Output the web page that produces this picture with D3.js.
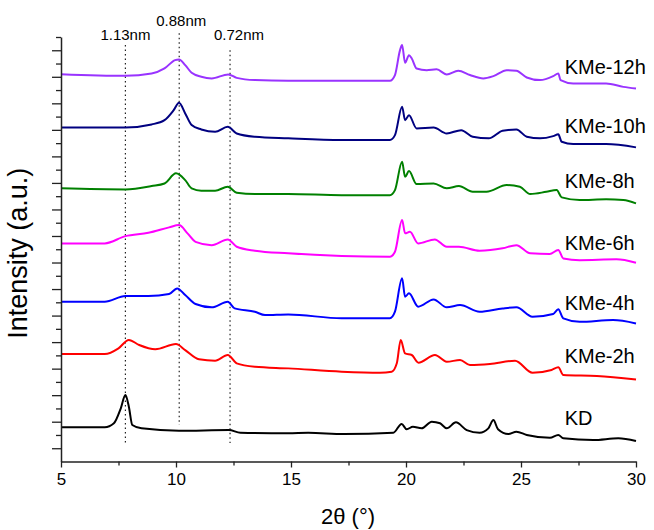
<!DOCTYPE html>
<html>
<head>
<meta charset="utf-8">
<script src="https://cdn.jsdelivr.net/npm/d3@7"></script>
<style>
  body { margin: 0; background: #fff; }
  text { font-family: "Liberation Sans", Arial, sans-serif; fill: #000; }
</style>
</head>
<body>
<div id="chart"></div>
<script>
// XRD patterns, stacked (2theta, intensity in a.u.)
const kd = [[5.0,2.58],[6.9,2.58],[7.3,2.88],[7.6,4.01],[7.8,5.01],[7.95,4.13],[8.1,2.75],[8.5,2.50],
  [10.13,2.32],[12.3,2.37],[12.8,2.17],[14.88,2.13],[15.75,2.17],[17.3,2.07],[19.45,2.17],[19.81,2.83],
  [20.03,2.43],[20.3,2.62],[20.68,2.50],[21.12,3.00],[21.48,2.88],[21.77,2.50],[22.17,2.95],[22.64,2.37],
  [23.2,2.17],[23.58,2.50],[23.8,3.13],[24.0,2.43],[24.45,2.07],[24.8,2.25],[25.25,2.00],[26.26,1.79],
  [26.62,2.00],[26.84,1.75],[28.14,1.62],[29.23,1.75],[30.0,1.54]];

const kme2h = [[5.0,8.10],[6.9,8.10],[7.5,8.53],[7.95,9.16],[8.4,8.78],[9.1,8.46],[10.0,8.85],[10.4,8.40],
  [11.0,7.70],[11.7,7.60],[12.25,8.03],[12.64,7.40],[13.43,7.14],[14.88,7.02],[17.2,6.77],[18.87,6.69],
  [19.38,6.77],[19.6,7.40],[19.77,9.16],[19.96,8.15],[20.25,8.03],[20.54,7.45],[21.26,8.03],[21.77,7.52],
  [22.35,7.65],[22.78,7.27],[23.65,7.35],[24.74,7.60],[25.5,6.69],[26.33,6.90],[26.62,7.10],[26.84,6.52],
  [28.3,6.44],[30.0,6.19]];

const kme4h = [[5.0,12.04],[6.9,12.04],[7.8,12.47],[8.8,12.47],[9.7,12.62],[10.05,13.05],[10.4,12.55],
  [10.85,11.87],[11.55,11.62],[12.25,12.04],[12.55,11.54],[13.43,11.29],[13.87,11.04],[14.88,11.09],
  [17.2,10.79],[19.3,10.79],[19.52,11.29],[19.83,13.81],[19.96,12.42],[20.13,12.68],[20.53,11.67],
  [21.2,12.22],[21.77,11.62],[22.35,11.79],[23.2,11.29],[24.2,11.54],[24.8,11.62],[25.5,10.91],
  [26.4,11.12],[26.62,11.47],[26.84,10.79],[27.55,10.53],[29.0,10.66],[30.0,10.41]];

const kme6h = [[5.0,16.44],[6.9,16.44],[7.8,16.99],[8.8,17.24],[9.7,17.65],[10.13,17.82],[10.5,17.20],
  [10.85,16.56],[11.55,16.31],[12.25,16.74],[12.64,16.19],[13.43,15.89],[14.88,15.69],[17.2,15.49],
  [19.3,15.43],[19.52,15.81],[19.83,18.20],[19.96,17.20],[20.17,17.32],[20.53,16.44],[21.25,16.74],
  [21.77,16.19],[22.3,16.19],[23.2,15.89],[24.2,16.07],[24.8,16.31],[25.4,15.69],[26.25,15.64],
  [26.62,15.94],[26.84,15.31],[27.55,15.18],[29.15,15.24],[30.0,14.98]];

const kme8h = [[5.0,20.59],[7.8,20.51],[8.94,20.76],[9.5,20.96],[10.0,21.72],[10.4,21.21],[10.68,20.59],
  [11.1,20.41],[11.7,20.41],[12.25,20.71],[12.64,20.26],[13.43,20.16],[14.88,20.16],[17.2,20.08],
  [19.3,20.08],[19.52,20.46],[19.83,22.59],[19.96,21.46],[20.13,21.89],[20.46,20.91],[21.2,20.96],
  [21.77,20.59],[22.3,20.76],[22.9,20.33],[23.5,20.33],[24.38,20.84],[24.95,20.71],[25.4,20.16],
  [26.1,20.33],[26.55,20.46],[26.77,19.91],[27.55,19.71],[28.7,19.76],[29.45,19.71],[30.0,19.46]];

const kme10h = [[5.0,25.18],[7.8,25.18],[8.94,25.41],[9.5,25.73],[9.9,26.49],[10.13,27.04],[10.4,26.24],
  [10.68,25.36],[11.1,25.03],[11.7,24.85],[12.25,25.23],[12.64,24.73],[13.43,24.48],[14.88,24.36],
  [17.2,24.23],[19.3,24.23],[19.52,24.60],[19.83,26.74],[19.96,25.73],[20.13,26.11],[20.46,25.11],
  [21.2,25.18],[21.77,24.73],[22.4,24.98],[22.9,24.48],[23.6,24.36],[24.2,24.93],[24.8,25.03],
  [25.25,24.48],[25.83,24.36],[26.4,24.53],[26.62,24.66],[26.77,24.10],[27.27,23.93],[28.7,23.93],[30.0,23.68]];

const kme12h = [[5.0,29.20],[7.8,29.07],[8.94,29.25],[9.5,29.63],[9.96,30.26],[10.13,30.31],[10.4,29.88],
  [10.68,29.30],[11.1,29.00],[11.55,28.88],[12.27,29.18],[12.64,28.92],[13.43,28.75],[14.88,28.70],
  [17.2,28.70],[19.3,28.70],[19.52,29.13],[19.74,31.01],[19.83,31.39],[19.96,30.05],[20.13,30.63],
  [20.25,30.38],[20.46,29.63],[20.9,29.50],[21.33,29.56],[21.77,29.18],[22.27,29.45],[22.78,29.13],
  [23.36,28.88],[23.8,29.05],[24.38,29.50],[24.8,29.45],[25.25,28.95],[25.83,28.75],[26.4,29.05],
  [26.62,29.25],[26.72,28.75],[27.27,28.50],[28.7,28.50],[29.45,28.24],[30.0,28.12]];

const seriesNames = ["KD", "KMe-2h", "KMe-4h", "KMe-6h", "KMe-8h", "KMe-10h", "KMe-12h"];
const seriesData = [kd, kme2h, kme4h, kme6h, kme8h, kme10h, kme12h];
const seriesColors = ["#000000", "#ff0000", "#0000ff", "#ff00ff", "#008000", "#000080", "#9933ff"];
const labelY = [2.75, 7.40, 11.42, 15.94, 20.59, 24.73, 29.20];

// d-spacing guide lines
const guideX = [7.8, 10.14, 12.35];
const guideTop = [31.39, 32.29, 31.0];
const guideBottom = [1.39, 2.75, 1.39];
const guideLabels = ["1.13nm", "0.88nm", "0.72nm"];

const xMajor = [5, 10, 15, 20, 25, 30];
const xMinor = [7.5, 12.5, 17.5, 22.5, 27.5];
const yMajor = d3.range(1, 32, 2);
const yMinor = d3.range(2, 33, 2);

const width = 654;
const height = 530;

const svg = d3.select("#chart").append("svg")
    .attr("width", width)
    .attr("height", height);

const x = d3.scaleLinear().domain([5, 30]).range([61, 636]);
const y = d3.scaleLinear().domain([0, 32]).range([461.5, 37]);

const line = d3.line()
    .x(d => x(d[0]))
    .y(d => y(d[1]))
    .curve(d3.curveMonotoneX);

// guides
guideX.forEach((g, i) => {
    svg.append("line")
        .attr("x1", x(g)).attr("x2", x(g))
        .attr("y1", y(guideTop[i])).attr("y2", y(guideBottom[i]))
        .attr("stroke", "#222")
        .attr("stroke-width", 1.2)
        .attr("stroke-dasharray", "1.5,3");
});

svg.append("text").attr("x", x(guideX[0])).attr("y", 40).attr("text-anchor", "middle")
    .attr("font-size", 15).text(guideLabels[0]);
svg.append("text").attr("x", x(guideX[1]) + 2).attr("y", 25.5).attr("text-anchor", "middle")
    .attr("font-size", 15).text(guideLabels[1]);
svg.append("text").attr("x", x(guideX[2]) + 9).attr("y", 40).attr("text-anchor", "middle")
    .attr("font-size", 15).text(guideLabels[2]);

// curves
svg.selectAll("path.trace")
    .data(seriesData)
    .enter()
    .append("path")
    .attr("class", "trace")
    .attr("d", line)
    .attr("fill", "none")
    .attr("stroke", (d, i) => seriesColors[i])
    .attr("stroke-width", 2)
    .attr("stroke-linejoin", "round");

svg.selectAll("text.series")
    .data(seriesNames)
    .enter()
    .append("text")
    .attr("class", "series")
    .attr("x", x(26.9))
    .attr("y", (d, i) => y(labelY[i]))
    .attr("font-size", 20)
    .text(d => d);

// axes
const xAxis = svg.append("g")
    .attr("transform", `translate(0,${y(0)})`)
    .call(d3.axisBottom(x).tickValues(xMajor).tickSize(6).tickSizeOuter(0).tickPadding(5));
svg.append("g")
    .attr("transform", `translate(0,${y(0)})`)
    .call(d3.axisBottom(x).tickValues(xMinor).tickSize(4).tickSizeOuter(0).tickFormat(""))
    .select(".domain").remove();

const yAxis = svg.append("g")
    .attr("transform", `translate(${x(5)},0)`)
    .call(d3.axisLeft(y).tickValues(yMajor).tickSize(9).tickSizeOuter(0).tickFormat(""));
svg.append("g")
    .attr("transform", `translate(${x(5)},0)`)
    .call(d3.axisLeft(y).tickValues(yMinor).tickSize(5).tickSizeOuter(0).tickFormat(""))
    .select(".domain").remove();

svg.selectAll(".domain").attr("stroke", "#222").attr("stroke-width", 1.5);
svg.selectAll(".tick line").attr("stroke", "#222").attr("stroke-width", 1.3);
xAxis.selectAll(".tick text")
    .attr("font-size", 17)
    .attr("font-family", "Liberation Sans, Arial, sans-serif")
    .attr("fill", "#000");

svg.append("text")
    .attr("x", 348)
    .attr("y", 524)
    .attr("text-anchor", "middle")
    .attr("font-size", 22)
    .text("2θ (°)");

svg.append("text")
    .attr("transform", `translate(27,${(y(0) + y(32)) / 2 + 4}) rotate(-90)`)
    .attr("text-anchor", "middle")
    .attr("font-size", 27)
    .text("Intensity (a.u.)");
</script>
</body>
</html>
